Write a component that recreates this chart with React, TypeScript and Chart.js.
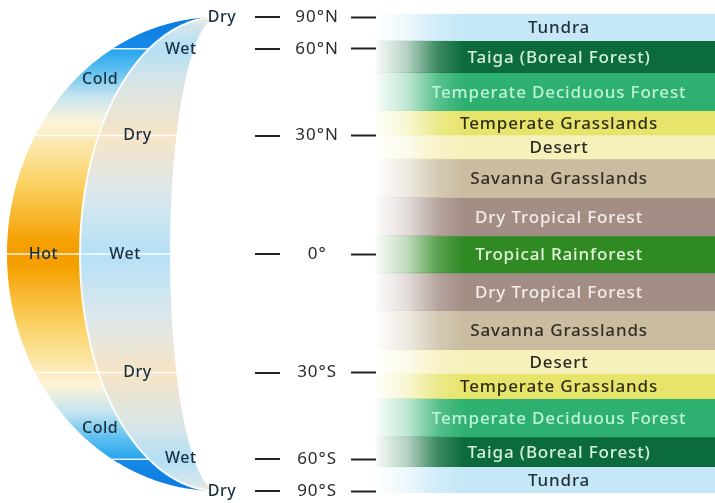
import React, { useEffect, useRef } from "react";
import { Chart, registerables } from "chart.js";

Chart.register(...registerables);

// ---------- data ----------
const BIOMES = [
  "Tundra",
  "Taiga (Boreal Forest)",
  "Temperate Deciduous Forest",
  "Temperate Grasslands",
  "Desert",
  "Savanna Grasslands",
  "Dry Tropical Forest",
  "Tropical Rainforest",
  "Dry Tropical Forest",
  "Savanna Grasslands",
  "Desert",
  "Temperate Grasslands",
  "Temperate Deciduous Forest",
  "Taiga (Boreal Forest)",
  "Tundra",
];
// band edges on the projected axis (sine of latitude), north to south
const BAND_TOPS = [1.013, 0.9, 0.765, 0.605, 0.503, 0.402, 0.238, 0.077, -0.079, -0.239, -0.403, -0.505, -0.61, -0.771, -0.897];
const BAND_BOTTOMS = [0.9, 0.765, 0.605, 0.503, 0.402, 0.238, 0.077, -0.079, -0.239, -0.403, -0.505, -0.61, -0.771, -0.897, -1.008];
const BIOME_COLORS = [
  "#C5E7F7", "#0B6B3A", "#2EB170", "#E7E46C", "#F6F0BA", "#C9BCA1", "#A38E86", "#2F8A24",
  "#A38E86", "#C9BCA1", "#F6F0BA", "#E7E46C", "#2EB170", "#0B6B3A", "#C5E7F7",
];
const BIOME_TEXT_COLORS = [
  "#1F3038", "#D7F0DF", "#BFF3D6", "#2E2E14", "#2A2A20", "#332D24", "#F3ECEA", "#E3F6DA",
  "#F3ECEA", "#332D24", "#2A2A20", "#2E2E14", "#BFF3D6", "#D7F0DF", "#1F3038",
];
const LAT_TICKS = [90, 60, 30, 0, -30, -60, -90];
const LAT_LABELS = ["90°N", "60°N", "30°N", "0°", "30°S", "60°S", "90°S"];

// climate crescent: colour stops by latitude
const TEMP_STOPS: [number, string][] = [
  [90, "#0A7ADE"], [60.3, "#1689E8"], [59.7, "#27A4EE"], [51, "#5DBFF0"], [42, "#C3E4F1"],
  [34, "#FCF3DA"], [26, "#FCE5A2"], [17, "#FAD060"], [9, "#F7B62C"], [3, "#F5A000"], [0, "#F59C00"],
  [-3, "#F5A000"], [-9, "#F7B62C"], [-17, "#FAD060"], [-26, "#FCE5A2"], [-34, "#FCF3DA"], [-42, "#C3E4F1"],
  [-51, "#5DBFF0"], [-59.7, "#27A4EE"], [-60.3, "#1689E8"], [-90, "#0A7ADE"],
];
const MOIST_STOPS: [number, string][] = [
  [90, "#FAEBD0"], [76, "#D6E6EC"], [60, "#B3DFF6"], [47, "#D6E5E8"], [30, "#F7E4C6"],
  [15, "#DCE8EC"], [0, "#B4E0F7"], [-15, "#DCE8EC"], [-30, "#F7E4C6"], [-47, "#D6E5E8"],
  [-60, "#B3DFF6"], [-76, "#D6E6EC"], [-90, "#FAEBD0"],
];
const CLIMATE_LABELS = [
  { text: "Dry", lat: 90, band: "tip" },
  { text: "Wet", lat: 59.5, band: "inner" },
  { text: "Cold", lat: 47.5, band: "outer" },
  { text: "Dry", lat: 30, band: "inner" },
  { text: "Hot", lat: 0, band: "outer" },
  { text: "Wet", lat: 0, band: "inner" },
  { text: "Dry", lat: -30, band: "inner" },
  { text: "Cold", lat: -47.5, band: "outer" },
  { text: "Wet", lat: -59.5, band: "inner" },
  { text: "Dry", lat: -90, band: "tip" },
];
const FULL_LINES = [30, 0, -30];
const OUTER_LINES = [60, -60];

// ---------- styling ----------
const FONT = "'Noto Sans', 'Open Sans', sans-serif";
const TIP_X = 218;
const A_OUT = 211;
const A_MID = 138;
const A_IN = 48;
const Y_MIN = -1.008;
const Y_MAX = 1.013;

const rad = (d: number) => (d * Math.PI) / 180;

function hexToRgba(hex: string, a: number) {
  const n = parseInt(hex.slice(1), 16);
  return `rgba(${(n >> 16) & 255},${(n >> 8) & 255},${n & 255},${a})`;
}

function fadeFill(chart: any, color: string) {
  const area = chart.chartArea;
  if (!area) return color;
  const g = chart.ctx.createLinearGradient(area.left, 0, area.left + 88, 0);
  g.addColorStop(0, hexToRgba(color, 0.03));
  g.addColorStop(0.35, hexToRgba(color, 0.3));
  g.addColorStop(0.7, hexToRgba(color, 0.8));
  g.addColorStop(1, hexToRgba(color, 1));
  return g;
}

const spacingPlugin = {
  id: "spacing",
  beforeLayout(chart: any) {
    chart.ctx.letterSpacing = "1px";
  },
  beforeDraw(chart: any) {
    chart.ctx.letterSpacing = "1px";
  },
};

const crescentPlugin = {
  id: "crescent",
  beforeDatasetsDraw(chart: any) {
    const ys = chart.scales.y;
    const ctx = chart.ctx as CanvasRenderingContext2D;
    const yp = (lat: number) => ys.getPixelForValue(Math.sin(rad(lat)));
    const xp = (a: number, lat: number) => TIP_X - a * Math.cos(rad(lat));
    const top = yp(90);
    const bot = yp(-90);
    const grad = (stops: [number, string][]) => {
      const g = ctx.createLinearGradient(0, top, 0, bot);
      stops.forEach(([lat, c]) => g.addColorStop(Math.min(1, Math.max(0, (yp(lat) - top) / (bot - top))), c));
      return g;
    };
    const bandPath = (a1: number, a2: number) => {
      ctx.beginPath();
      for (let lat = 90; lat >= -90; lat -= 0.5) ctx.lineTo(xp(a1, lat), yp(lat));
      for (let lat = -90; lat <= 90; lat += 0.5) ctx.lineTo(xp(a2, lat), yp(lat));
      ctx.closePath();
    };
    ctx.save();
    bandPath(A_OUT, A_MID);
    ctx.fillStyle = grad(TEMP_STOPS);
    ctx.fill();
    bandPath(A_MID, A_IN);
    ctx.fillStyle = grad(MOIST_STOPS);
    ctx.fill();

    // separators
    ctx.strokeStyle = "rgba(255,255,255,0.9)";
    ctx.lineWidth = 2;
    ctx.beginPath();
    for (let lat = 90; lat >= -90; lat -= 0.5) ctx.lineTo(xp(A_MID, lat), yp(lat));
    ctx.stroke();
    ctx.lineWidth = 1.5;
    FULL_LINES.forEach((lat) => {
      ctx.beginPath();
      ctx.moveTo(xp(A_OUT, lat), yp(lat));
      ctx.lineTo(xp(A_IN, lat), yp(lat));
      ctx.stroke();
    });
    OUTER_LINES.forEach((lat) => {
      ctx.beginPath();
      ctx.moveTo(xp(A_OUT, lat), yp(lat));
      ctx.lineTo(xp(A_MID, lat), yp(lat));
      ctx.stroke();
    });

    // labels
    ctx.font = `500 16px ${FONT}`;
    ctx.letterSpacing = "0.5px";
    ctx.fillStyle = "#18303F";
    ctx.textAlign = "center";
    ctx.textBaseline = "middle";
    CLIMATE_LABELS.forEach((l) => {
      let x: number;
      if (l.band === "tip") x = TIP_X + 4;
      else if (l.band === "outer") x = (xp(A_OUT, l.lat) + xp(A_MID, l.lat)) / 2;
      else x = (xp(A_MID, l.lat) + xp(A_IN, l.lat)) / 2 + (Math.abs(l.lat) > 50 ? 10 : 0);
      ctx.fillText(l.text, x, yp(l.lat));
    });

    // left dashes of latitude marks
    ctx.strokeStyle = "#222";
    ctx.lineWidth = 2;
    ys.ticks.forEach((t: any) => {
      const y = Math.round(ys.getPixelForValue(t.value));
      ctx.beginPath();
      ctx.moveTo(ys.right - 121, y);
      ctx.lineTo(ys.right - 96, y);
      ctx.stroke();
    });
    ctx.restore();
  },
};

const biomeLabelPlugin = {
  id: "biomeLabels",
  afterDatasetsDraw(chart: any) {
    const ys = chart.scales.y;
    const area = chart.chartArea;
    const ctx = chart.ctx as CanvasRenderingContext2D;
    ctx.save();
    ctx.font = `500 17px ${FONT}`;
    ctx.letterSpacing = "0.85px";
    ctx.textAlign = "center";
    ctx.textBaseline = "middle";
    const x = area.left + (area.right - area.left) * 0.54;
    BIOMES.forEach((name, i) => {
      const y = (ys.getPixelForValue(BAND_TOPS[i]) + ys.getPixelForValue(BAND_BOTTOMS[i])) / 2;
      ctx.fillStyle = BIOME_TEXT_COLORS[i];
      ctx.fillText(name, x, y + 1);
    });
    ctx.restore();
  },
};

export default function App() {
  const ref = useRef<HTMLCanvasElement | null>(null);
  useEffect(() => {
    document.body.style.margin = "0";
    if (!ref.current) return;
    const chart = new Chart(ref.current, {
      type: "bar",
      data: {
        labels: ["Biomes"],
        datasets: BIOMES.map((name, i) => ({
          label: name,
          data: [[BAND_BOTTOMS[i], BAND_TOPS[i]]] as any,
          backgroundColor: (c: any) => fadeFill(c.chart, BIOME_COLORS[i]),
          borderWidth: 0,
          grouped: false,
          barPercentage: 1,
          categoryPercentage: 1,
        })),
      },
      options: {
        animation: false,
        responsive: true,
        maintainAspectRatio: false,
        layout: { padding: { top: 14, bottom: 10, left: 0, right: 0 } },
        plugins: { legend: { display: false }, tooltip: { enabled: false } },
        scales: {
          x: { display: false },
          y: {
            position: "left",
            min: Y_MIN,
            max: Y_MAX,
            afterBuildTicks: (scale: any) => {
              scale.ticks = LAT_TICKS.map((d) => ({ value: Math.sin(rad(d)) }));
            },
            afterFit: (scale: any) => {
              scale.width = 376;
              scale.paddingTop = 0;
              scale.paddingBottom = 0;
            },
            border: { display: false },
            grid: {
              drawOnChartArea: false,
              drawTicks: true,
              tickLength: 25,
              tickWidth: 2,
              tickColor: "#222",
            },
            ticks: {
              autoSkip: false,
              crossAlign: "center",
              padding: 12,
              color: "#2B2B2B",
              font: { family: FONT, size: 17 },
              callback: (_v: any, i: number) => LAT_LABELS[i],
            },
          },
        },
      },
      plugins: [spacingPlugin, crescentPlugin, biomeLabelPlugin],
    });
    return () => chart.destroy();
  }, []);
  return (
    <div style={{ position: "fixed", left: 0, top: 0, width: 715, height: 503, background: "#fff" }}>
      <canvas ref={ref} />
    </div>
  );
}
